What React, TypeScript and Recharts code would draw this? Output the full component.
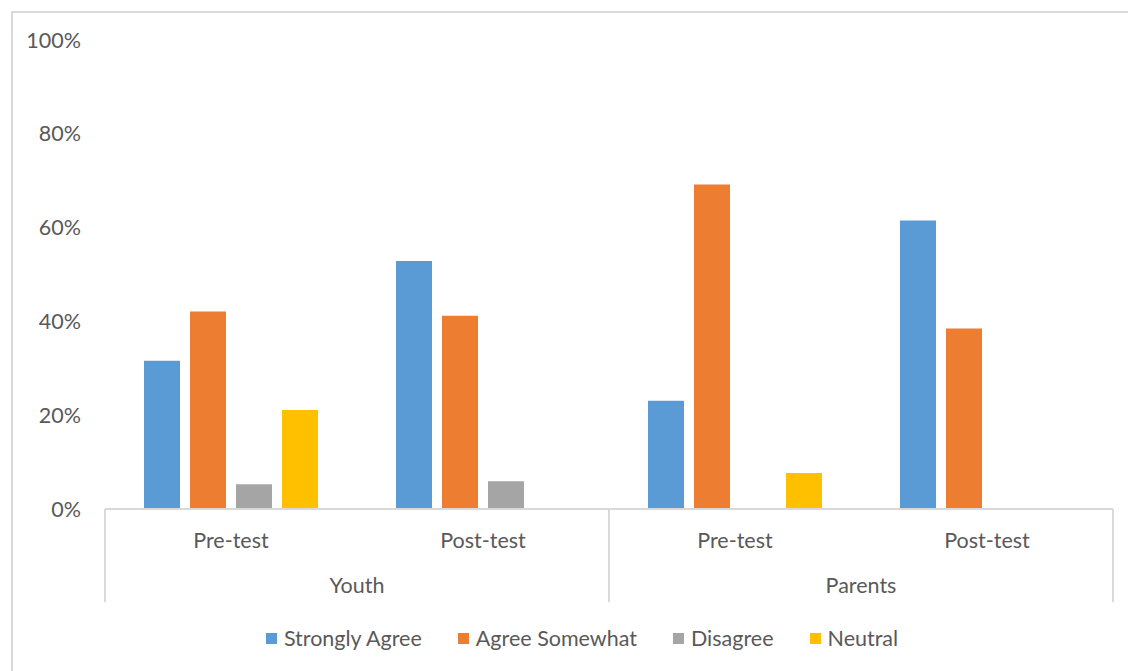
import { BarChart, Bar, XAxis, YAxis, Legend } from "recharts";

const phases = ["Pre-test", "Post-test", "Pre-test", "Post-test"];
const groups = ["Youth", "Youth", "Parents", "Parents"];
const stronglyAgree = [31.6, 52.9, 23.1, 61.5];
const agreeSomewhat = [42.1, 41.2, 69.2, 38.5];
const disagree = [5.3, 5.9, 0, 0];
const neutral = [21.1, 0, 7.7, 0];
const yTicks = [0, 20, 40, 60, 80, 100];
const seriesOrder = ["Strongly Agree", "Agree Somewhat", "Disagree", "Neutral"];

const data = phases.map((phase, i) => ({
  phase,
  group: groups[i],
  stronglyAgree: stronglyAgree[i],
  agreeSomewhat: agreeSomewhat[i],
  disagree: disagree[i],
  neutral: neutral[i],
}));

const FONT = "Lato, 'Liberation Sans', sans-serif";
const FS = 21.5;
const TEXT = "#595959";
const RULE = "#d9d9d9";

// second-level category tick: group name plus the bracket lines on either side
function GroupTick(props: any) {
  const { x, y, payload } = props;
  const half = payload.offset || 252;
  return (
    <g>
      <line x1={x - half} x2={x - half} y1={y - 45} y2={y + 48} stroke={RULE} strokeWidth={2} />
      <line x1={x + half} x2={x + half} y1={y - 45} y2={y + 48} stroke={RULE} strokeWidth={2} />
      <text x={x} y={y + 39} textAnchor="middle" fill={TEXT} fontSize={FS} fontFamily={FONT}>
        {payload.value}
      </text>
    </g>
  );
}

function LegendContent(props: any) {
  const items = [...(props.payload || [])].sort(
    (a: any, b: any) => seriesOrder.indexOf(a.value) - seriesOrder.indexOf(b.value)
  );
  return (
    <div style={{ display: "flex", justifyContent: "center", gap: 36, paddingLeft: 51, height: 22, lineHeight: "22px" }}>
      {items.map((item: any) => (
        <div key={item.value} style={{ display: "flex", alignItems: "center" }}>
          <span style={{ width: 11, height: 11, background: item.color, marginRight: 7, display: "inline-block" }} />
          <span style={{ fontSize: FS, color: TEXT, fontFamily: FONT }}>{item.value}</span>
        </div>
      ))}
    </div>
  );
}

export default function App() {
  return (
    <div style={{ position: "absolute", left: 0, top: 0, width: 1128, height: 671, background: "#fff", overflow: "hidden" }}>
      <div
        style={{
          position: "absolute",
          left: 11,
          top: 11,
          width: 1200,
          height: 700,
          borderLeft: `2px solid ${RULE}`,
          borderTop: `2px solid ${RULE}`,
        }}
      />
      <div style={{ position: "absolute", left: 0, top: 0 }}>
        <BarChart
          width={1128}
          height={671}
          data={data}
          margin={{ top: 40, right: 15, left: 0, bottom: 22 }}
          barSize={36}
          barGap={10}
        >
          <YAxis
            domain={[0, 100]}
            ticks={yTicks}
            tickFormatter={(v: number) => `${v}%`}
            axisLine={false}
            tickLine={false}
            tickSize={0}
            tickMargin={24}
            width={105}
            tick={{ fill: TEXT, fontSize: FS, fontFamily: FONT }}
          />
          <XAxis
            dataKey="phase"
            axisLine={{ stroke: RULE, strokeWidth: 2 }}
            tickLine={false}
            tickSize={0}
            tickMargin={24}
            height={45}
            interval={0}
            tick={{ fill: TEXT, fontSize: FS, fontFamily: FONT }}
          />
          <XAxis
            xAxisId="group"
            dataKey="group"
            allowDuplicatedCategory={false}
            axisLine={false}
            tickLine={false}
            tickSize={0}
            tickMargin={0}
            height={73}
            interval={0}
            tick={<GroupTick />}
          />
          <Legend verticalAlign="bottom" content={<LegendContent />} />
          <Bar dataKey="stronglyAgree" name="Strongly Agree" fill="#5B9BD5" isAnimationActive={false} />
          <Bar dataKey="agreeSomewhat" name="Agree Somewhat" fill="#ED7D31" isAnimationActive={false} />
          <Bar dataKey="disagree" name="Disagree" fill="#A5A5A5" isAnimationActive={false} />
          <Bar dataKey="neutral" name="Neutral" fill="#FFC000" isAnimationActive={false} />
        </BarChart>
      </div>
    </div>
  );
}
